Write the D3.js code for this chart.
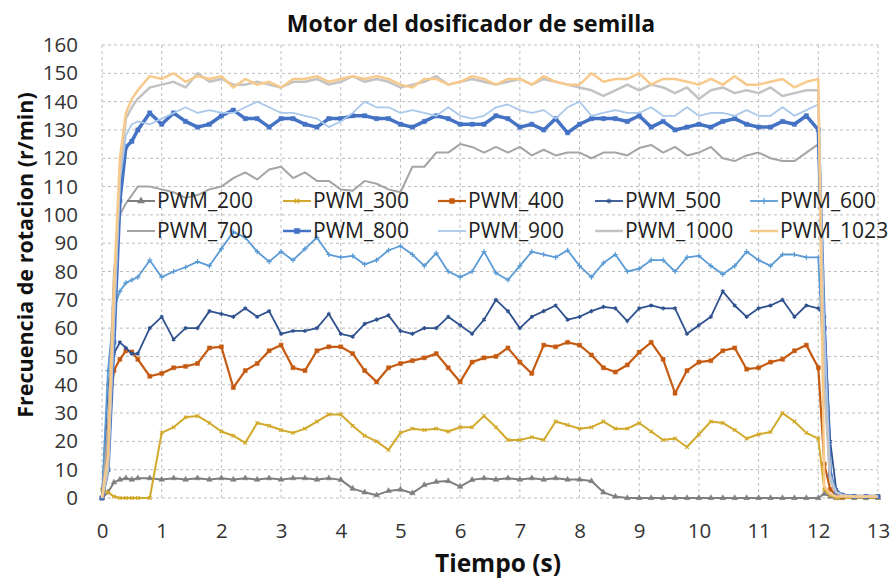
<!DOCTYPE html>
<html>
<head>
<meta charset="utf-8">
<script src="https://cdn.jsdelivr.net/npm/d3@7"></script>
<style>
  body { margin: 0; background: #fff; }
  svg { display: block; font-family: "Open Sans", sans-serif; }
</style>
</head>
<body>
<div id="chart"></div>
<script>
// time axis (s)
var time = [0, 0.1, 0.2, 0.3, 0.4, 0.5, 0.6,
  0.8, 1.0, 1.2, 1.4, 1.6, 1.8, 2.0, 2.2, 2.4, 2.6, 2.8, 3.0, 3.2, 3.4, 3.6,
  3.8, 4.0, 4.2, 4.4, 4.6, 4.8, 5.0, 5.2, 5.4, 5.6, 5.8, 6.0, 6.2, 6.4, 6.6,
  6.8, 7.0, 7.2, 7.4, 7.6, 7.8, 8.0, 8.2, 8.4, 8.6, 8.8, 9.0, 9.2, 9.4, 9.6,
  9.8, 10.0, 10.2, 10.4, 10.6, 10.8, 11.0, 11.2, 11.4, 11.6, 11.8, 12.0,
  12.1, 12.2, 12.3, 12.4, 12.6, 12.8, 13.0];

// r/min per PWM level
var pwm200 = [0, 2, 5.5, 6.5, 7, 6.5, 7,
  7, 6.5, 7, 6.5, 7, 6.5, 7, 6.5, 7, 6.5, 7, 6.5, 7, 7, 6.5,
  7, 6.4, 3.3, 2, 1, 2.5, 3, 1.7, 4.6, 5.7, 6, 4, 6.4, 7, 6.5,
  7, 6.5, 7, 6.5, 7, 6.5, 6.5, 6, 2, 0.5, 0, 0, 0, 0, 0,
  0, 0, 0, 0, 0, 0, 0, 0, 0, 0, 0, 0,
  1.5, 0.5, 0, 0, 0, 0, 0];
var pwm300 = [3, 2, 0.5, 0, 0, 0, 0,
  0, 23, 25, 28.5, 29, 26.5, 23.5, 22, 19.5, 26.5, 25.5, 24, 23, 24.5, 27,
  29.5, 29.5, 25.5, 22, 20, 17, 23, 24.5, 24, 24.5, 23.5, 25, 25, 29, 25,
  20.5, 20.5, 21.5, 20.5, 27, 25.8, 24.5, 25, 27, 24.5, 24.5, 26.5, 23.5, 20.5, 21,
  18, 22.5, 27, 26.5, 24, 21, 22.5, 23.3, 30, 27, 23, 21,
  3, 1, 0, 0, 0, 0, 0];
var pwm400 = [0, 25, 45, 49, 52, 51.6, 49,
  43, 44, 46, 46.5, 47.5, 53, 53.4, 39, 45, 47.5, 52, 54, 46, 45, 52,
  53.4, 53.4, 51, 45, 41, 46, 47.5, 48.5, 49.5, 51, 46, 41, 48, 49.5, 50,
  53, 48, 44, 54, 53.4, 55, 54, 50.5, 46, 44.5, 47, 51.5, 55, 49, 37,
  45, 48, 48.5, 52, 53, 45.5, 46, 48, 49, 52, 54, 46,
  12, 3, 1, 0.5, 0.5, 0.5, 0.5];
var pwm500 = [0, 40, 51, 55, 53, 51, 51,
  60, 64, 56, 60, 60, 66, 65, 64, 67, 64, 66, 58, 59, 59, 60,
  65, 58, 57, 61.5, 63, 64.5, 59, 58, 60, 60, 64, 61, 58, 63, 70,
  66, 60, 64, 66, 68, 63, 64, 66, 67.5, 67, 62.5, 67, 68, 67, 67,
  58, 61, 64, 73, 68, 64, 67, 68, 70, 64, 68, 67,
  64, 20, 3, 1, 0.5, 0.5, 0.5];
var pwm600 = [0, 45, 67, 73, 76, 77, 78,
  84, 78, 80, 81.5, 83.5, 82, 88, 94, 92, 87, 83.5, 87, 84, 88, 92,
  86, 85, 85.5, 82.5, 84, 87.5, 89, 86, 82, 86.5, 80, 78, 80, 87, 79.5,
  77, 82, 87, 86, 85, 87.5, 82, 78, 83, 86, 80, 81, 84, 84, 80,
  85, 85.5, 82, 79, 82, 87, 84, 82, 86, 86, 85, 85,
  40, 8, 2, 1, 0.5, 0.5, 0.5];
var pwm700 = [0, 25, 80, 100, 104, 107, 110,
  110, 109, 108, 106, 107, 109, 110, 113, 115, 112.5, 116, 117, 113, 115, 112,
  112, 109, 108.5, 112, 111, 109, 108, 117, 117, 122, 122, 125, 124, 122, 124,
  122, 124, 121, 123, 121, 122, 122, 120, 122, 122, 121, 123.6, 124.7, 122, 124,
  121, 122, 124, 120, 119, 121, 122, 120, 119, 119, 122, 125,
  60, 8, 2, 1, 0.5, 0.5, 0.5];
var pwm800 = [0, 10, 55, 105, 124, 126, 130,
  136, 132, 136, 133, 131, 132, 135, 137, 134, 134, 131, 134, 134, 132, 131,
  134, 134, 135, 135, 134, 134, 132, 131, 133, 135, 134, 132, 132, 132, 135,
  134, 131, 132, 130, 134, 129, 132, 134, 134, 134, 133, 135, 131, 133, 130,
  131, 132, 131, 133, 134, 132, 131, 131, 133, 132, 135, 130,
  60, 8, 2, 1, 0.5, 0.5, 0.5];
var pwm900 = [0, 10, 60, 112, 128, 132, 133,
  132, 134, 136, 138, 136, 137, 136, 136, 138, 140, 138, 136, 136, 135, 134,
  131, 133, 136, 140, 138, 138, 136, 137, 136, 135, 138, 135, 134, 135, 138,
  139, 137, 136, 137, 134, 138, 140, 135, 136, 137, 136, 136, 138, 135, 135,
  138, 135, 136, 136, 135, 137, 135, 135, 138, 135, 137, 139,
  60, 8, 2, 1, 0.5, 0.5, 0.5];
var pwm1000 = [0, 10, 65, 115, 134, 138, 141,
  145, 146, 147, 145, 150, 147, 148, 146, 146, 147, 146, 145, 147, 147, 148,
  146, 147, 149, 147, 148, 147, 145, 146, 147, 149, 146, 147, 148, 147, 146,
  147, 148, 146, 148, 147, 146, 145, 144, 142, 144, 146, 144, 146, 145, 143,
  145, 141, 144, 145, 143, 144, 143, 145, 142, 143, 144, 144,
  40, 6, 2, 1, 0.5, 0.5, 0.5];
var pwm1023 = [0, 15, 75, 120, 136, 141, 144,
  149, 148, 150, 147, 149, 148, 149, 145, 148, 146, 147, 145, 148, 148, 149,
  147, 148, 149, 148, 149, 148, 146, 145, 148, 148, 146, 147, 149, 148, 146,
  148, 148, 146, 149, 147, 146, 146, 150, 147, 148, 148, 150, 146, 148, 148,
  147, 146, 148, 146, 149, 146, 146, 147, 148, 145, 147, 148,
  4, 1.5, 0.5, 0.5, 0.5, 0.5, 0.5];

var seriesNames = ["PWM_200", "PWM_300", "PWM_400", "PWM_500", "PWM_600",
                   "PWM_700", "PWM_800", "PWM_900", "PWM_1000", "PWM_1023"];
var seriesValues = [pwm200, pwm300, pwm400, pwm500, pwm600,
                    pwm700, pwm800, pwm900, pwm1000, pwm1023];

var xTicks = [0, 1, 2, 3, 4, 5, 6, 7, 8, 9, 10, 11, 12, 13];
var yTicks = [0, 10, 20, 30, 40, 50, 60, 70, 80, 90, 100, 110, 120, 130, 140, 150, 160];

// styles
var colors = ["#7f7f7f", "#d2a92a", "#c55a11", "#2f528f", "#5b9bd5",
              "#a5a5a5", "#4472c4", "#a9c8ea", "#c3c3c3", "#f7ca8c"];
var widths = [2, 2, 2.2, 1.8, 1.8, 2, 3.5, 1.8, 2.5, 2.5];
var symbols = [d3.symbolTriangle, d3.symbolTimes || d3.symbolCross, d3.symbolSquare,
               d3.symbolAsterisk || d3.symbolStar, d3.symbolPlus || d3.symbolCross,
               null, d3.symbolSquare, null, null, null];
var symSizes = [14, 10, 16, 12, 10, 0, 18, 0, 0, 0];

var W = 894, H = 578;
var margin = {top: 45, right: 16, bottom: 80, left: 102};

var svg = d3.select('#chart')
  .append('svg')
    .attr('width', W)
    .attr('height', H);

var x = d3.scaleLinear()
  .domain([0, 13])
  .range([margin.left, W - margin.right]);
var y = d3.scaleLinear()
  .domain([0, 160])
  .range([H - margin.bottom, margin.top]);

// grid
var grid = svg.append('g').attr('class', 'grid');
grid.selectAll('line.h')
  .data(yTicks)
  .enter().append('line')
    .attr('class', 'h')
    .attr('x1', x(0)).attr('x2', x(13))
    .attr('y1', d => y(d)).attr('y2', d => y(d));
grid.selectAll('line.v')
  .data(xTicks)
  .enter().append('line')
    .attr('class', 'v')
    .attr('y1', y(0)).attr('y2', y(160))
    .attr('x1', d => x(d)).attr('x2', d => x(d));
grid.selectAll('line')
  .attr('stroke', '#bdbdbd')
  .attr('stroke-width', 1)
  .attr('stroke-dasharray', '3,3');

// axes (labels only)
var xAxis = svg.append('g')
  .attr('transform', `translate(0,${y(0)})`)
  .call(d3.axisBottom(x).tickValues(xTicks).tickSize(0).tickPadding(25));
var yAxis = svg.append('g')
  .attr('transform', `translate(${margin.left},0)`)
  .call(d3.axisLeft(y).tickValues(yTicks).tickSize(0).tickPadding(24));
[xAxis, yAxis].forEach(function(a) {
  a.select('.domain').remove();
  a.selectAll('text')
    .style('font-family', '"Open Sans", sans-serif')
    .style('font-size', '20.5px')
    .attr('fill', '#333');
});

// lines
var line = d3.line()
  .x((d, i) => x(time[i]))
  .y(d => y(d));

seriesValues.forEach(function(vals, k) {
  svg.append('path')
    .datum(vals)
    .attr('fill', 'none')
    .attr('stroke', colors[k])
    .attr('stroke-width', widths[k])
    .attr('stroke-linejoin', 'round')
    .attr('d', line);
  if (symbols[k]) {
    var isStroke = (symbols[k] === d3.symbolTimes || symbols[k] === d3.symbolPlus || symbols[k] === d3.symbolAsterisk);
    svg.append('g').selectAll('path')
      .data(vals)
      .enter().append('path')
        .attr('transform', (d, i) => `translate(${x(time[i])},${y(d)})`)
        .attr('d', d3.symbol().type(symbols[k]).size(symSizes[k]))
        .attr('fill', isStroke ? 'none' : colors[k])
        .attr('stroke', colors[k])
        .attr('stroke-width', isStroke ? 1.2 : 0.5);
  }
});

// legend
var legX = [157, 313, 468, 625, 780];
var legY = [201, 231];
var legend = svg.append('g');
seriesNames.forEach(function(name, k) {
  var col = k % 5, row = Math.floor(k / 5);
  var tx = legX[col], ty = legY[row];
  legend.append('line')
    .attr('x1', tx - 30).attr('x2', tx - 2)
    .attr('y1', ty).attr('y2', ty)
    .attr('stroke', colors[k])
    .attr('stroke-width', Math.min(widths[k], 2.5));
  if (symbols[k]) {
    var isStroke = (symbols[k] === d3.symbolTimes || symbols[k] === d3.symbolPlus || symbols[k] === d3.symbolAsterisk);
    legend.append('path')
      .attr('transform', `translate(${tx - 16},${ty})`)
      .attr('d', d3.symbol().type(symbols[k]).size(symSizes[k] * 1.5))
      .attr('fill', isStroke ? 'none' : colors[k])
      .attr('stroke', colors[k])
      .attr('stroke-width', isStroke ? 1.2 : 0.5);
  }
  legend.append('text')
    .attr('x', tx)
    .attr('y', ty)
    .attr('dy', '0.35em')
    .style('font-size', '21px')
    .attr('fill', '#222')
    .text(name);
});

// titles
svg.append('text')
  .attr('x', 471)
  .attr('y', 32)
  .attr('text-anchor', 'middle')
  .style('font-size', '23px')
  .style('font-weight', 'bold')
  .attr('fill', '#111')
  .text('Motor del dosificador de semilla');

svg.append('text')
  .attr('x', 498)
  .attr('y', 572)
  .attr('text-anchor', 'middle')
  .style('font-size', '24.5px')
  .style('font-weight', 'bold')
  .attr('fill', '#111')
  .text('Tiempo (s)');

svg.append('text')
  .attr('transform', 'translate(33,255) rotate(-90)')
  .attr('text-anchor', 'middle')
  .style('font-size', '21.5px')
  .style('font-weight', 'bold')
  .attr('fill', '#111')
  .text('Frecuencia de rotacion (r/min)');
</script>
</body>
</html>
